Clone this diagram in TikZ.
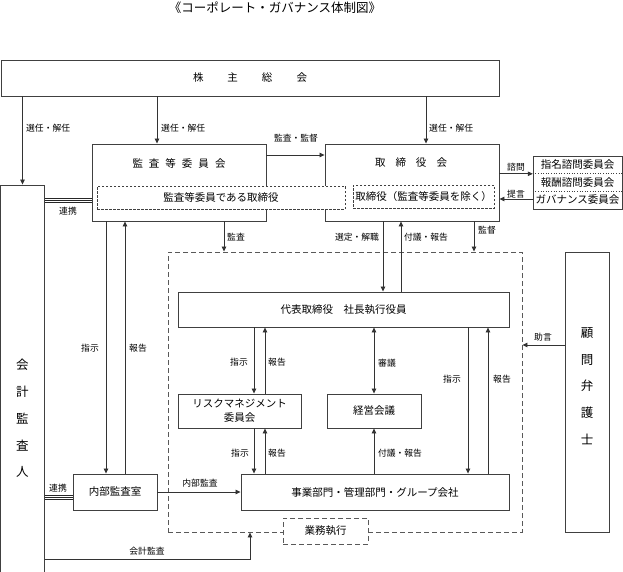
\documentclass[tikz,border=0pt]{standalone}
\usepackage{fontspec}
\setmainfont{Noto Sans CJK JP}
\usetikzlibrary{arrows.meta}
\begin{document}
\begin{tikzpicture}[x=1pt,y=-1pt,
  line/.style={draw=black!80, line width=0.8pt},
  arr/.style={line, -{Triangle[length=5pt,width=4.5pt]}},
  darr/.style={line, {Triangle[length=5pt,width=4.5pt]}-{Triangle[length=5pt,width=4.5pt]}},
  box/.style={draw=black!75, line width=0.9pt, inner sep=0pt, align=center, font=\fontsize{10.5}{14}\selectfont},
  dbox/.style={box, line width=0.6pt, dash pattern=on 2.5pt off 1.5pt, fill=white},
  bigdash/.style={draw=black!65, line width=0.9pt, dash pattern=on 5pt off 3pt, inner sep=0pt},
  lbl/.style={font=\fontsize{8.8}{10}\selectfont, inner sep=0pt},
  txt/.style={inner sep=0pt, font=\fontsize{10.5}{14}\selectfont, align=center},
  vtxt/.style={inner sep=0pt, font=\fontsize{12.5}{26.8}\selectfont, align=center},
]
\useasboundingbox (0,0) rectangle (623,572);

% lanes
\coordinate (xb) at (157,0);
\coordinate (xc) at (426,0);
\coordinate (xd) at (224,0);
\coordinate (xe) at (474,0);
\coordinate (xf) at (383,0);
\coordinate (xg) at (401,0);
\coordinate (xh) at (106,0);
\coordinate (xi) at (125,0);
\coordinate (xj) at (254,0);
\coordinate (xk) at (265,0);
\coordinate (xm) at (468,0);
\coordinate (xn) at (488,0);
\coordinate (xo) at (250,0);
\coordinate (y155) at (0,155);
\coordinate (y199) at (0,199);
\coordinate (y345) at (0,345);
\coordinate (y559) at (0,559);

\node[txt, font=\fontsize{12.5}{14}\selectfont] (title) at (275,8) {《コーポレート・ガバナンス体制図》};

% big dashed area
\node[bigdash, minimum width=354pt, minimum height=280pt] (big) at (345,392) {};
\node[box, draw=black!65, dash pattern=on 5pt off 3pt, fill=white, minimum width=85pt, minimum height=26pt] (gyomu) at (325.5,531) {業務執行};

\node[box, minimum width=498pt, minimum height=36pt] (kabu) at (250,78) {株\hspace{24pt}主\hspace{24pt}総\hspace{24pt}会};

\node[box, minimum width=174pt, minimum height=77pt] (kansa) at (179,182.5) {};
\node[txt] (kansat) at (179,163) {監\hspace{6pt}査\hspace{6pt}等\hspace{6pt}委\hspace{6pt}員\hspace{6pt}会};
\node[box, minimum width=174pt, minimum height=77pt] (tori) at (412,182.5) {};
\node[txt] (torit) at (411,163) {取\hspace{10pt}締\hspace{10pt}役\hspace{10pt}会};
\node[dbox, minimum width=248pt, minimum height=23pt] (d1) at (221,197.5) {監査等委員である取締役};
\node[dbox, minimum width=141pt, minimum height=23pt] (d2) at (423.5,196.5) {取締役（監査等委員を除く）};

% committees
\node[box, minimum width=89pt, minimum height=53pt] (comm) at (577.5,182.5) {};
\node[txt, minimum width=89pt, minimum height=17.6pt] (c1) at (577.5,164.8) {指名諮問委員会};
\node[txt, minimum width=89pt, minimum height=17.6pt] (c2) at (577.5,182.2) {報酬諮問委員会};
\node[txt, minimum width=89pt, minimum height=17.6pt] (c3) at (577.5,200) {ガバナンス委員会};
\draw[black!75, line width=0.6pt, dotted] (c1.south west) -- (c1.south east);
\draw[black!75, line width=0.6pt, dotted] (c2.south west) -- (c2.south east);

\node[box, minimum width=331pt, minimum height=35pt] (daihyo) at (343.5,309.5) {代表取締役　社長執行役員};
\node[box, minimum width=123pt, minimum height=34pt] (risk) at (239.5,411) {リスクマネジメント\\委員会};
\node[box, minimum width=94pt, minimum height=34pt] (keiei) at (374,411) {経営会議};
\node[box, minimum width=84pt, minimum height=36pt] (naibu) at (115,492) {内部監査室};
\node[box, minimum width=268pt, minimum height=36pt] (jigyo) at (375,492) {事業部門・管理部門・グループ会社};

\node[box, minimum width=44pt, minimum height=387pt] (kaikei) at (22.5,378.5) {};
\node[vtxt] (kaikeit) at (22.5,418.5) {会\\計\\監\\査\\人};
\node[box, minimum width=44pt, minimum height=280pt] (komon) at (587,392) {};
\node[vtxt] (komont) at (587,386) {顧\\問\\弁\\護\\士};

% connectors
\draw[arr] (kaikei.north |- kabu.south) -- (kaikei.north);
\draw[arr] (xb |- kabu.south) -- (xb |- kansa.north);
\draw[arr] (xc |- kabu.south) -- (xc |- tori.north);
\draw[arr] (kansa.east |- y155) -- (tori.west |- y155);
\draw[arr] (tori.east |- c1.south) -- (c1.south west);
\draw[arr] (comm.west |- y199) -- (tori.east |- y199);
\draw[arr] (xd |- kansa.south) -- (xd |- big.north);
\draw[arr] (xe |- tori.south) -- (xe |- big.north);
\draw[arr] (xf |- tori.south) -- (xf |- daihyo.north);
\draw[arr] (xg |- daihyo.north) -- (xg |- tori.south);
\draw[arr] (xh |- kansa.south) -- (xh |- naibu.north);
\draw[arr] (xi |- naibu.north) -- (xi |- kansa.south);
\draw[arr] (xj |- daihyo.south) -- (xj |- risk.north);
\draw[arr] (xk |- risk.north) -- (xk |- daihyo.south);
\draw[darr] (keiei.north |- daihyo.south) -- (keiei.north);
\draw[arr] (xm |- daihyo.south) -- (xm |- jigyo.north);
\draw[arr] (xn |- jigyo.north) -- (xn |- daihyo.south);
\draw[arr] (komon.west |- y345) -- (big.east |- y345);
\draw[arr] (xj |- risk.south) -- (xj |- jigyo.north);
\draw[arr] (xk |- jigyo.north) -- (xk |- risk.south);
\draw[arr] (keiei.south |- jigyo.north) -- (keiei.south);
\draw[arr] (naibu.east) -- (jigyo.west);
\draw[arr] (kaikei.east |- y559) -| (xo |- big.south);
\foreach \yy in {198,200,202} {
  \coordinate (tt) at (0,\yy);
  \draw[black!85, line width=0.6pt] (kaikei.east |- tt) -- (kansa.west |- tt);
}
\foreach \yy in {495,497,499} {
  \coordinate (tt) at (0,\yy);
  \draw[black!85, line width=0.6pt] (kaikei.east |- tt) -- (naibu.west |- tt);
}

% labels
\node[lbl, anchor=west] (l1) at (26,128) {選任・解任};
\node[lbl, anchor=west] (l2) at (161,128) {選任・解任};
\node[lbl, anchor=west] (l3) at (429,128) {選任・解任};
\node[lbl] (l4) at (296,138) {監査・監督};
\node[lbl] (l5) at (516,167) {諮問};
\node[lbl] (l6) at (516,194) {提言};
\node[lbl] (l7) at (68,211) {連携};
\node[lbl] (l8) at (58,488) {連携};
\node[lbl] (l9) at (236,237) {監査};
\node[lbl] (l10) at (357,237) {選定・解職};
\node[lbl] (l11) at (426,237) {付議・報告};
\node[lbl] (l12) at (487,230) {監督};
\node[lbl] (l13) at (90,348) {指示};
\node[lbl] (l14) at (138,348) {報告};
\node[lbl] (l15) at (239,362) {指示};
\node[lbl] (l16) at (277,362) {報告};
\node[lbl] (l17) at (387,363) {審議};
\node[lbl] (l18) at (452,379) {指示};
\node[lbl] (l19) at (502,379) {報告};
\node[lbl] (l20) at (543,337) {助言};
\node[lbl] (l21) at (240,453) {指示};
\node[lbl] (l22) at (277,453) {報告};
\node[lbl] (l23) at (400,453) {付議・報告};
\node[lbl] (l24) at (200,483) {内部監査};
\node[lbl] (l25) at (147,551) {会計監査};
\end{tikzpicture}
\end{document}
